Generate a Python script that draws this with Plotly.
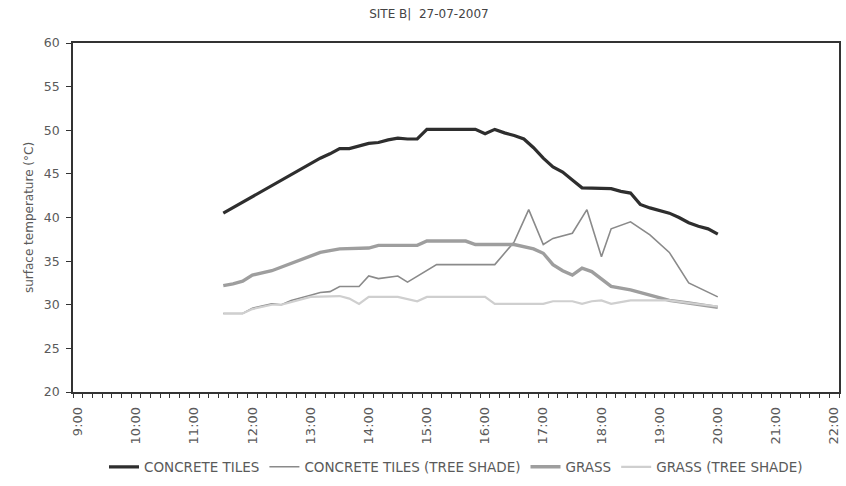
import plotly.graph_objects as go

# Surface temperature readings, site B, 27-07-2007 (time of day, °C)
concrete_times = ["11:30", "13:00", "13:10", "13:20", "13:30", "13:40", "13:50", "14:00",
                  "14:10", "14:20", "14:30", "14:40", "14:50", "15:00", "15:50", "16:00",
                  "16:10", "16:20", "16:30", "16:40", "16:50", "17:00", "17:10", "17:20",
                  "17:30", "17:40", "18:10", "18:20", "18:30", "18:40", "18:50", "19:00",
                  "19:10", "19:20", "19:30", "19:40", "19:50", "20:00"]
concrete_vals = [40.5, 46.2, 46.8, 47.3, 47.9, 47.9, 48.2, 48.5,
                 48.6, 48.9, 49.1, 49.0, 49.0, 50.1, 50.1, 49.6,
                 50.1, 49.7, 49.4, 49.0, 48.0, 46.8, 45.8, 45.2,
                 44.3, 43.4, 43.3, 43.0, 42.8, 41.5, 41.1, 40.8,
                 40.5, 40.0, 39.4, 39.0, 38.7, 38.1]

concrete_shade_times = ["11:30", "11:50", "12:00", "12:20", "12:30", "12:40", "13:00", "13:10",
                        "13:20", "13:30", "13:50", "14:00", "14:10", "14:30", "14:40", "15:00",
                        "15:10", "16:10", "16:30", "16:45", "17:00", "17:10", "17:30", "17:45",
                        "18:00", "18:10", "18:30", "18:50", "19:10", "19:30", "20:00"]
concrete_shade_vals = [29.0, 29.0, 29.6, 30.1, 30.0, 30.5, 31.1, 31.4,
                       31.5, 32.1, 32.1, 33.3, 33.0, 33.3, 32.6, 33.9,
                       34.6, 34.6, 37.2, 40.9, 36.9, 37.6, 38.2, 40.9,
                       35.5, 38.7, 39.5, 38.0, 36.0, 32.5, 30.9]

grass_times = ["11:30", "11:40", "11:50", "12:00", "12:20", "12:40", "13:00", "13:10",
               "13:30", "14:00", "14:10", "14:50", "15:00", "15:40", "15:50", "16:30",
               "16:50", "17:00", "17:10", "17:20", "17:30", "17:40", "17:50", "18:00",
               "18:10", "18:30", "19:10", "19:30", "20:00"]
grass_vals = [32.2, 32.4, 32.7, 33.4, 33.9, 34.7, 35.5, 36.0,
              36.4, 36.5, 36.8, 36.8, 37.3, 37.3, 36.9, 36.9,
              36.4, 35.9, 34.6, 33.9, 33.4, 34.2, 33.8, 33.0,
              32.1, 31.7, 30.5, 30.2, 29.7]

grass_shade_times = ["11:30", "11:50", "12:00", "12:20", "12:30", "12:40", "13:00", "13:30",
                     "13:40", "13:50", "14:00", "14:30", "14:50", "15:00", "16:00", "16:10",
                     "17:00", "17:10", "17:30", "17:40", "17:50", "18:00", "18:10", "18:30",
                     "19:10", "19:30", "20:00"]
grass_shade_vals = [29.0, 29.0, 29.5, 30.0, 30.0, 30.3, 30.9, 31.0,
                    30.7, 30.1, 30.9, 30.9, 30.4, 30.9, 30.9, 30.1,
                    30.1, 30.4, 30.4, 30.1, 30.4, 30.5, 30.1, 30.5,
                    30.5, 30.2, 29.8]

hour_labels = [f"{h}:00" for h in range(9, 23)]


def to_hours(stamp):
    h, m = stamp.split(":")
    return int(h) + int(m) / 60


FONT = "DejaVu Sans"
TEXT = "#5a5a5a"

series = [
    ("CONCRETE TILES", concrete_times, concrete_vals, "#2e2e2e", 3.2),
    ("CONCRETE TILES (TREE SHADE)", concrete_shade_times, concrete_shade_vals, "#8a8a8a", 1.6),
    ("GRASS", grass_times, grass_vals, "#9e9e9e", 3.4),
    ("GRASS (TREE SHADE)", grass_shade_times, grass_shade_vals, "#cfcfcf", 2.2),
]

fig = go.Figure()
for name, times, vals, color, width in series:
    fig.add_trace(go.Scatter(
        x=[to_hours(t) for t in times], y=vals, name=name, mode="lines",
        line=dict(color=color, width=width),
    ))

fig.update_layout(
    width=846, height=486,
    margin=dict(l=73, r=7, t=43, b=94, autoexpand=False),
    paper_bgcolor="white", plot_bgcolor="white",
    font=dict(family=FONT, size=12, color=TEXT),
    title=dict(text="SITE B|  27-07-2007", x=0.507, xanchor="center", y=0.972, yanchor="middle",
               font=dict(family=FONT, size=12, color="#444444")),
    showlegend=True,
    legend=dict(orientation="h", x=0.5, xanchor="center", y=-0.215, yanchor="middle",
                font=dict(family=FONT, size=13.5, color=TEXT), itemwidth=30,
                traceorder="normal", bgcolor="rgba(0,0,0,0)"),
)

fig.update_xaxes(
    range=[9 - 1 / 12, 22 + 1 / 12], automargin=False,
    tickmode="array", tickvals=list(range(9, 23)), ticktext=hour_labels,
    tickangle=-90, ticks="", ticklabelstandoff=8, tickfont=dict(size=13, color=TEXT),
    minor=dict(tickmode="linear", tick0=9 - 1 / 12, dtick=1 / 6, ticks="outside",
               ticklen=4, tickcolor="#333333", tickwidth=1, showgrid=False),
    showgrid=False, zeroline=False,
    showline=True, linecolor="#333333", linewidth=1.5, mirror=True,
)
fig.update_yaxes(
    range=[20, 60], dtick=5, ticks="outside", ticklen=5, tickcolor="#333333",
    automargin=False, ticklabelstandoff=4, tickfont=dict(size=12.5, color=TEXT),
    title=dict(text="surface temperature (°C)", font=dict(size=12, color=TEXT), standoff=8),
    showgrid=False, zeroline=False,
    showline=True, linecolor="#333333", linewidth=1.5, mirror=True,
)

fig.write_html("out.html")
